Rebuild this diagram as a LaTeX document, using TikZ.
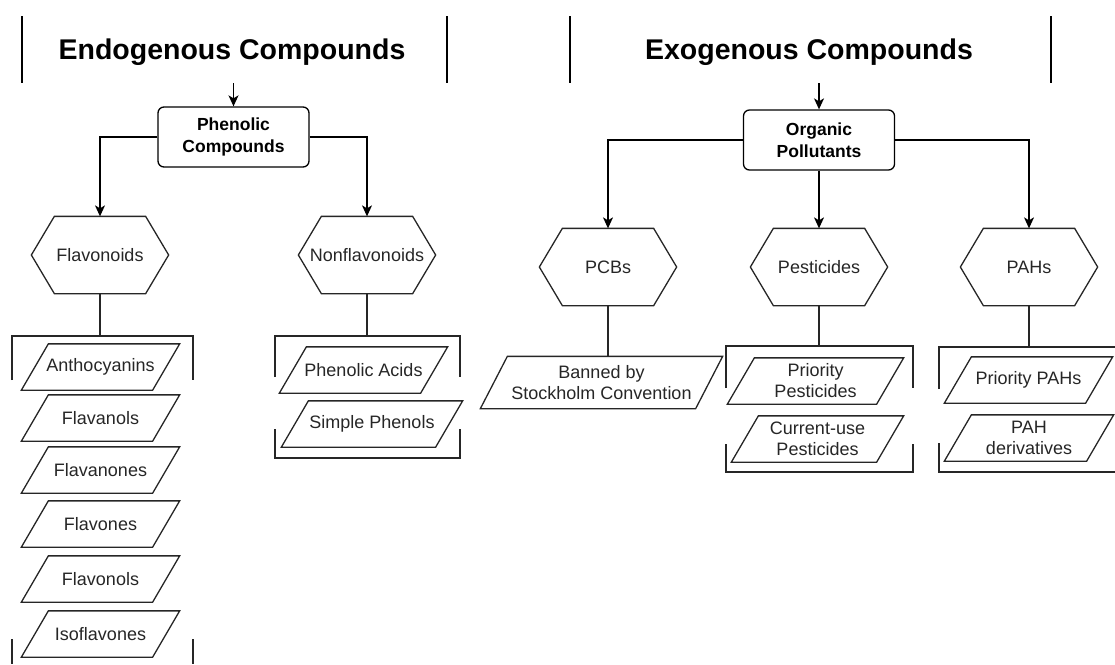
\documentclass[tikz,border=0pt]{standalone}
\usepackage{fontspec}
\setmainfont{Liberation Sans}
\usetikzlibrary{arrows.meta}

\begin{document}
\begin{tikzpicture}[x=1pt,y=-1pt,>={Stealth[length=11pt,width=10pt,inset=3pt]},
  line width=1.3pt,
  title node/.style={anchor=base,font=\fontsize{28.5}{34}\selectfont\bfseries},
  title bar/.style={line width=2.2pt},
  group node/.style={draw,rounded corners=6pt,minimum width=151pt,minimum height=60pt,
    align=center,font=\fontsize{17.5}{22}\selectfont\bfseries},
  class node/.style={minimum width=136pt,minimum height=76pt,inner sep=0pt,
    font=\fontsize{18}{21}\selectfont,text=black!85,
    append after command={\pgfextra{\draw[black!85]
      (\tikzlastnode.west) -- ([xshift=23pt]\tikzlastnode.north west)
      -- ([xshift=-23pt]\tikzlastnode.north east) -- (\tikzlastnode.east)
      -- ([xshift=-23pt]\tikzlastnode.south east)
      -- ([xshift=23pt]\tikzlastnode.south west) -- cycle;}}},
  item node/.style={minimum height=45pt,inner sep=0pt,align=center,
    font=\fontsize{18}{21}\selectfont,text=black!85,
    append after command={\pgfextra{\draw[black!85]
      (\tikzlastnode.south west) -- ([xshift=-27pt]\tikzlastnode.south east)
      -- (\tikzlastnode.north east) -- ([xshift=27pt]\tikzlastnode.north west)
      -- cycle;}}},
  list line/.style={black!85}]

  \useasboundingbox (0,0) rectangle (1115,664);

  % headings
  \node[title node] (endo) at (232,59) {Endogenous Compounds};
  \node[title node] (exo) at (809,59) {Exogenous Compounds};
  \draw[title bar] (22,16) -- (22,83);
  \draw[title bar] (447,16) -- (447,83);
  \draw[title bar] (570,16) -- (570,83);
  \draw[title bar] (1051,16) -- (1051,83);
  \coordinate (endo in) at (233.5,83);
  \coordinate (exo in) at (819,83);

  \node[group node] (phenolic) at (233.5,137) {Phenolic\\Compounds};
  \node[group node] (organic) at (819,140) {Organic\\Pollutants};

  \node[class node] (flav) at (100,255) {Flavonoids};
  \node[class node] (nonflav) at (367,255) {Nonflavonoids};
  \node[class node] (pcb) at (608,267) {PCBs};
  \node[class node] (pest) at (819,267) {Pesticides};
  \node[class node] (pah) at (1029,267) {PAHs};

  % flavonoids
  \node[item node,minimum width=157pt] (antho) at (100.5,367) {Anthocyanins};
  \node[item node,minimum width=157pt] (flavanols) at (100.5,418) {Flavanols};
  \node[item node,minimum width=157pt] (flavanones) at (100.5,470) {Flavanones};
  \node[item node,minimum width=157pt] (flavones) at (100.5,524) {Flavones};
  \node[item node,minimum width=157pt] (flavonols) at (100.5,579) {Flavonols};
  \node[item node,minimum width=157pt] (iso) at (100.5,634) {Isoflavones};

  % nonflavonoids
  \node[item node,minimum width=167pt] (acids) at (363.5,370) {Phenolic Acids};
  \node[item node,minimum width=180pt] (simple) at (372,424) {Simple Phenols};

  % pollutants
  \node[item node,minimum width=241pt,minimum height=51pt] (banned) at (601.5,382.5) {Banned by\\Stockholm Convention};
  \node[item node,minimum width=175pt] (prio pest) at (815.5,381) {Priority\\Pesticides};
  \node[item node,minimum width=171pt] (current) at (817.5,439) {Current-use\\Pesticides};
  \node[item node,minimum width=167pt] (prio pah) at (1028.5,380) {Priority PAHs};
  \node[item node,minimum width=168pt] (pah deriv) at (1029,438) {PAH\\derivatives};

  \draw[->] (endo in) -- (phenolic);
  \draw[->] (phenolic.west) -| (flav.north);
  \draw[->] (phenolic.east) -| (nonflav.north);
  \draw[->] (exo in) -- (organic);
  \draw[->] (organic.west) -| (pcb.north);
  \draw[->] (organic) -- (pest);
  \draw[->] (organic.east) -| (pah.north);

  \coordinate (flav list) at (100,336);
  \coordinate (nonflav list) at (367,336);
  \coordinate (pest list) at (819,346);
  \coordinate (pah list) at (1029,347);
  \draw[list line] (flav) -- (flav list);
  \draw[list line] (nonflav) -- (nonflav list);
  \draw[list line] (pcb) -- (pcb |- banned.north);
  \draw[list line] (pest) -- (pest list);
  \draw[list line] (pah) -- (pah list);

  % brackets
  \draw[list line] (12,380) |- (193,336) -- (193,380);
  \draw[list line] (12,639) -- (12,664) (193,639) -- (193,664);
  \draw[list line] (275,377) |- (460,336) -- (460,377);
  \draw[list line] (275,429) |- (460,458) -- (460,429);
  \draw[list line] (726,388) |- (913,346) -- (913,388);
  \draw[list line] (726,444) |- (913,472) -- (913,444);
  \draw[list line] (939,389) |- (1115,347);
  \draw[list line] (939,443) |- (1115,472);
\end{tikzpicture}
\end{document}
